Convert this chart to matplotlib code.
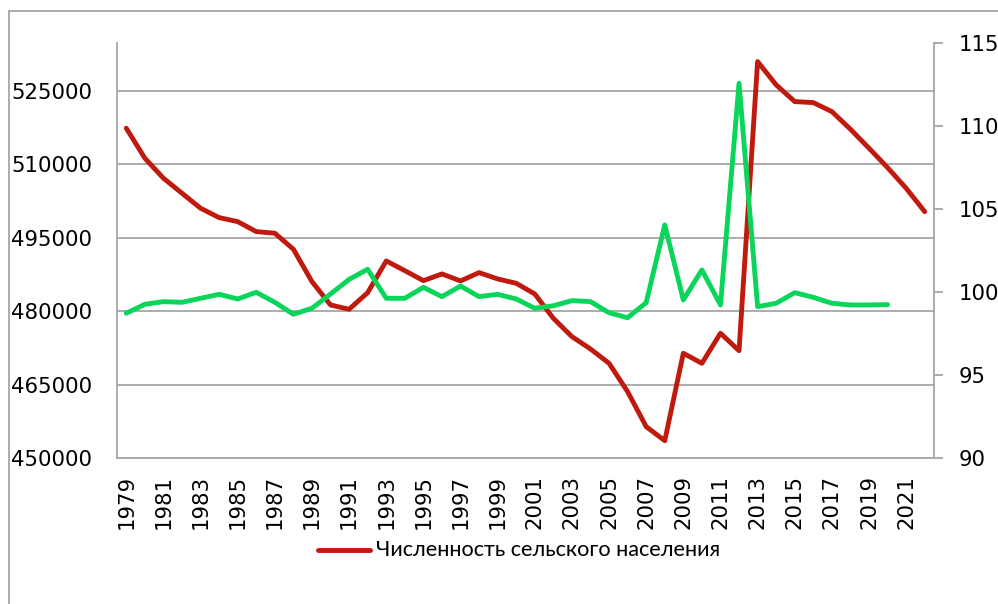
import matplotlib
matplotlib.use("Agg")
import matplotlib.pyplot as plt
from matplotlib.lines import Line2D

years = list(range(1979, 2023))
rural_pop = [517390, 511260, 507170, 504100, 501040, 499120, 498300, 496260, 495930, 492660,
             486040, 481270, 480390, 483790, 490270, 488280, 486240, 487610, 486180, 487880,
             486590, 485700, 483520, 478550, 474800, 472280, 469350, 463550, 456400, 453540,
             471400, 469350, 475490, 471930, 531000, 526240, 522830, 522620, 520780, 517180,
             513300, 509340, 505120, 500340]
green_years = list(range(1979, 2021))
index_vals = [98.72, 99.26, 99.42, 99.38, 99.62, 99.86, 99.58, 99.98, 99.38, 98.66,
              99.02, 99.88, 100.76, 101.37, 99.62, 99.62, 100.28, 99.72, 100.36, 99.72,
              99.86, 99.58, 99.02, 99.17, 99.48, 99.42, 98.75, 98.45, 99.36, 104.04,
              99.52, 101.33, 99.22, 112.57, 99.12, 99.32, 99.96, 99.68, 99.32, 99.22,
              99.22, 99.24]
left_ticks = [450000, 465000, 480000, 495000, 510000, 525000]
right_ticks = [90, 95, 100, 105, 110, 115]
legend_label = "Численность сельского населения"

RED = "#C0190E"
GREEN = "#08D55A"
GRID = "#A6A6A6"

W, H = 998, 604
fig = plt.figure(figsize=(W / 100, H / 100), dpi=100)
ax = fig.add_axes([117 / W, (H - 458) / H, 817 / W, 415 / H])
ax2 = ax.twinx()

x = list(range(len(years)))
ax.plot(x, rural_pop, color=RED, lw=3.5, solid_capstyle="round", solid_joinstyle="round", zorder=3)
ax2.plot(list(range(len(green_years))), index_vals, color=GREEN, lw=3.5,
         solid_capstyle="round", solid_joinstyle="round", zorder=2)

ax.set_xlim(-0.5, len(years) - 0.5)
ax.set_ylim(450000, 534800)
ax.set_yticks(left_ticks)
ax.set_yticklabels([str(v) for v in left_ticks])
ax.yaxis.grid(True, color=GRID, lw=1.3)
ax.set_axisbelow(True)
ax2.set_ylim(90, 115)
ax2.set_yticks(right_ticks)

ax.set_xticks(x[::2])
ax.set_xticklabels([str(y) for y in years[::2]], rotation=90, va="top")

for a in (ax, ax2):
    for s in a.spines.values():
        s.set_color(GRID)
        s.set_linewidth(1.3)
    a.spines["top"].set_visible(False)
ax2.spines["left"].set_visible(False)
ax2.spines["bottom"].set_visible(False)
ax.spines["right"].set_visible(False)

ax.tick_params(axis="y", length=0, pad=18, labelsize=15.3, labelcolor="black")
ax.tick_params(axis="x", length=0, pad=12, labelsize=15.3, labelcolor="black")
ax2.tick_params(axis="y", length=6.5, width=1.3, color=GRID, pad=11, labelsize=15.3, labelcolor="black")

# legend
fig.lines.append(Line2D([318 / W, 370 / W], [1 - 550 / H, 1 - 550 / H], color=RED, lw=3.5,
                        solid_capstyle="round", transform=fig.transFigure))
fig.text(376 / W, 1 - 550 / H, legend_label, fontsize=15.6, family="Lato", va="center", ha="left")

# chart border (partially visible)
fig.lines.append(Line2D([8.5 / W, 8.5 / W], [0, 1 - 10.5 / H], color=GRID, lw=1.3, transform=fig.transFigure))
fig.lines.append(Line2D([8.5 / W, 1], [1 - 10.5 / H, 1 - 10.5 / H], color=GRID, lw=1.3, transform=fig.transFigure))

fig.savefig("out.png", dpi=100)
